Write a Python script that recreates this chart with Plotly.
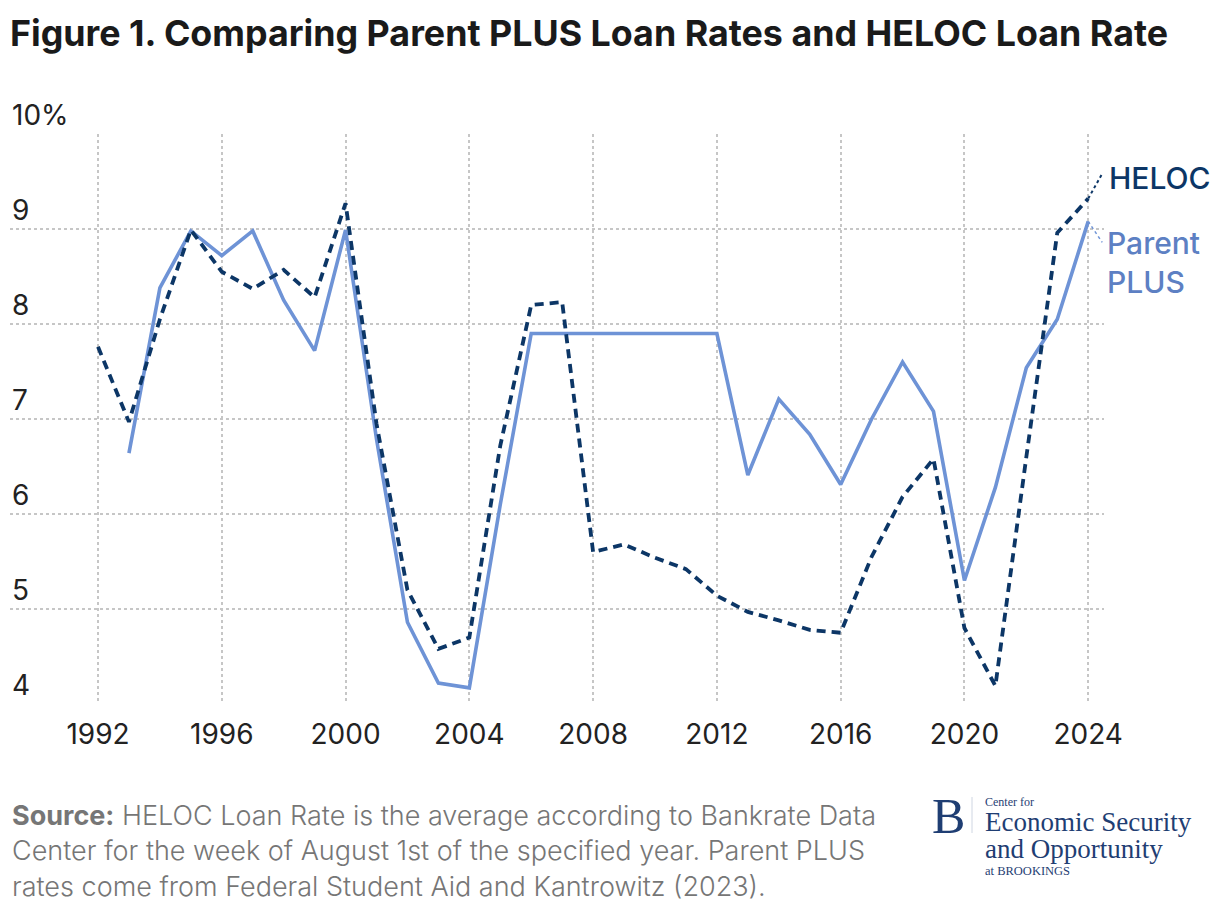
import plotly.graph_objects as go

# ---------------- data ----------------
heloc_years = list(range(1992, 2025))
heloc_rate = [7.76, 6.97, 8.05, 8.99, 8.55, 8.37, 8.57, 8.28, 9.27, 6.95,
              5.20, 4.58, 4.70, 6.72, 8.20, 8.23, 5.60, 5.68, 5.54, 5.42,
              5.14, 4.97, 4.88, 4.78, 4.75, 5.55, 6.18, 6.58, 4.80, 4.19,
              6.60, 8.96, 9.32]

plus_years = list(range(1993, 2025))
plus_rate = [6.64, 8.38, 8.98, 8.72, 8.98, 8.25, 7.72, 8.99, 6.79, 4.86,
             4.22, 4.17, 6.10, 7.90, 7.90, 7.90, 7.90, 7.90, 7.90, 7.90,
             6.41, 7.21, 6.84, 6.31, 7.00, 7.60, 7.08, 5.30, 6.28, 7.54,
             8.05, 9.08]

x_ticks = list(range(1992, 2025, 4))
y_ticks = [4, 5, 6, 7, 8, 9, 10]
y_tick_labels = ["4", "5", "6", "7", "8", "9", "10%"]

title_text = "Figure 1. Comparing Parent PLUS Loan Rates and HELOC Loan Rate"
source_lines = [
    "<b>Source:</b> HELOC Loan Rate is the average according to Bankrate Data",
    "Center for the week of August 1st of the specified year. Parent PLUS",
    "rates come from Federal Student Aid and Kantrowitz (2023).",
]

# ---------------- style ----------------
W, H = 1220, 916
ML, MR, MT, MB = 10, 116, 134, 212
FONT = "Inter"
HELOC_COLOR = "#0c3666"
PLUS_COLOR = "#6e93d6"
PLUS_LABEL_COLOR = "#5d80c3"
GRID = "#c6c6c6"
LOGO = "#1f3e73"
SERIF = "Liberation Serif"

plot_h = H - MT - MB


def py(pixel_y):
    return (H - MB - pixel_y) / plot_h


def lx(px):
    return (px - ML) / (W - ML - MR)


fig = go.Figure()

fig.add_trace(go.Scatter(
    x=plus_years, y=plus_rate, mode="lines", name="Parent PLUS",
    line=dict(color=PLUS_COLOR, width=3.6), hoverinfo="x+y"))
fig.add_trace(go.Scatter(
    x=heloc_years, y=heloc_rate, mode="lines", name="HELOC",
    line=dict(color=HELOC_COLOR, width=3.8, dash="9px,6px"), hoverinfo="x+y"))

annotations = []
# y tick labels sitting above gridlines
for v, lab in zip(y_ticks, y_tick_labels):
    annotations.append(dict(
        x=0, xref="paper", y=v, yref="y", xanchor="left", yanchor="middle",
        yshift=19, text=lab, showarrow=False,
        font=dict(family=FONT, size=28, color="#222222")))

# series labels
annotations.append(dict(
    x=heloc_years[-1], y=heloc_rate[-1], xref="x", yref="y",
    xanchor="left", yanchor="middle", xshift=19, yshift=21,
    text="HELOC", showarrow=False, align="left",
    font=dict(family=FONT, size=30, color=HELOC_COLOR, weight=500)))
annotations.append(dict(
    x=plus_years[-1], y=plus_rate[-1], xref="x", yref="y",
    xanchor="left", yanchor="middle", xshift=17, yshift=-41,
    text="Parent<br>PLUS", showarrow=False, align="left",
    font=dict(family=FONT, size=30, color=PLUS_LABEL_COLOR, weight=500)))

# source lines
for i, line in enumerate(source_lines):
    annotations.append(dict(
        x=0, xref="paper", y=py(815 + i * 35.5), yref="paper",
        xanchor="left", yanchor="middle", text=line, showarrow=False,
        font=dict(family=FONT, size=27, color="#767676", weight=300)))

# logo
annotations += [
    dict(x=lx(930), y=py(816), xref="paper", yref="paper", xanchor="left",
         yanchor="middle", text="B", showarrow=False,
         font=dict(family=SERIF, size=50, color=LOGO)),
    dict(x=lx(983), y=py(802), xref="paper", yref="paper", xanchor="left",
         yanchor="middle", text="Center for", showarrow=False,
         font=dict(family=SERIF, size=12, color=LOGO)),
    dict(x=lx(983), y=py(822), xref="paper", yref="paper", xanchor="left",
         yanchor="middle", text="Economic Security", showarrow=False,
         font=dict(family=SERIF, size=27, color=LOGO)),
    dict(x=lx(983), y=py(849), xref="paper", yref="paper", xanchor="left",
         yanchor="middle", text="and Opportunity", showarrow=False,
         font=dict(family=SERIF, size=27, color=LOGO)),
    dict(x=lx(983), y=py(871), xref="paper", yref="paper", xanchor="left",
         yanchor="middle", text="at BROOKINGS", showarrow=False,
         font=dict(family=SERIF, size=12.5, color=LOGO)),
]

shapes = [
    # connectors from last point to labels
    dict(type="line", xref="x", yref="y", xsizemode="pixel", ysizemode="pixel",
         xanchor=heloc_years[-1], yanchor=heloc_rate[-1], x0=0, y0=0, x1=14, y1=25,
         line=dict(color=HELOC_COLOR, width=2, dash="dot")),
    dict(type="line", xref="x", yref="y", xsizemode="pixel", ysizemode="pixel",
         xanchor=plus_years[-1], yanchor=plus_rate[-1], x0=0, y0=0, x1=14, y1=-21,
         line=dict(color=PLUS_COLOR, width=1.5, dash="dot")),
    # logo divider
    dict(type="line", xref="paper", yref="paper", x0=lx(972), x1=lx(972),
         y0=py(797), y1=py(833), line=dict(color="#cfd6e2", width=1)),
]

fig.update_layout(
    width=W, height=H,
    margin=dict(l=ML, r=MR, t=MT, b=MB),
    paper_bgcolor="white", plot_bgcolor="white",
    showlegend=False,
    title=dict(text="<b>" + title_text + "</b>", xref="container", yref="container",
               x=10 / W, xanchor="left", y=1 - 33 / H, yanchor="middle",
               font=dict(family=FONT, size=35.8, color="#1a1a1a")),
    annotations=annotations,
    shapes=shapes,
    xaxis=dict(range=[1989.156, 2024.51], tickvals=x_ticks,
               ticktext=[str(t) for t in x_ticks], showgrid=True,
               gridcolor=GRID, griddash="dot", gridwidth=1.6,
               zeroline=False, showline=False, ticks="",
               ticklabelstandoff=11,
               tickfont=dict(family=FONT, size=28, color="#222222")),
    yaxis=dict(range=[4, 10], tickvals=y_ticks, showticklabels=False,
               showgrid=True, gridcolor=GRID, griddash="dot", gridwidth=1.6,
               zeroline=False, showline=False, ticks=""),
    font=dict(family=FONT),
)

fig.write_html(
    "out.html",
    config={"displayModeBar": False},
    post_script="document.body.style.margin='0';document.body.style.padding='0';",
)
